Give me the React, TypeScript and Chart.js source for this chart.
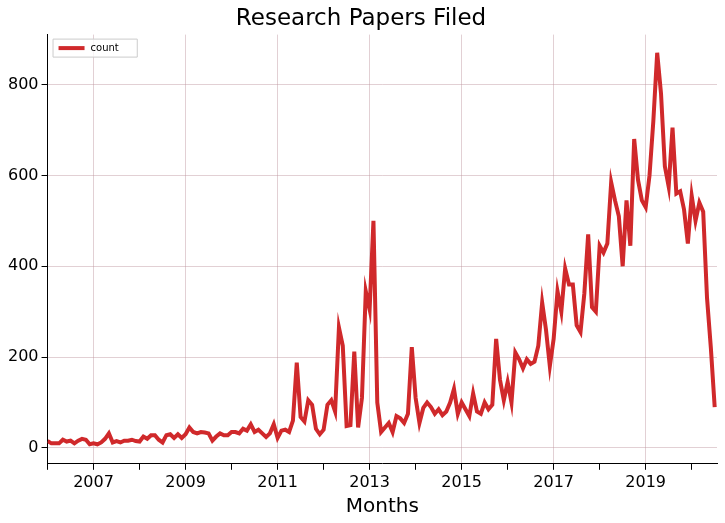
import React, { useEffect, useRef } from "react";
import { Chart, registerables } from "chart.js";
Chart.register(...registerables);

const startYear = 2006;
const counts: number[] = [
  15,10,10,10,18,14,16,10,16,20,18,8,
  10,8,12,20,32,12,15,12,16,16,18,15,
  14,25,20,28,28,18,12,28,30,22,30,22,
  30,45,35,32,35,34,32,16,25,32,28,28,
  35,35,32,42,38,52,35,40,32,24,32,52,
  22,38,40,35,60,188,68,58,105,95,42,30,
  40,95,105,80,265,225,48,50,212,45,110,345,
  305,500,100,35,45,55,35,70,65,55,75,222,
  110,55,88,100,90,75,85,72,80,100,130,75,
  100,85,70,120,80,75,100,85,95,240,150,105,
  145,100,210,195,175,195,185,190,225,320,260,180,
  240,345,300,395,360,360,270,255,340,470,310,300,
  445,430,450,585,545,510,400,545,445,680,590,545,
  530,600,720,870,780,620,575,705,560,565,525,450,
  555,500,540,520,330,220,90,
];
const seriesLabel = "count";
const yTicks = [0, 200, 400, 600, 800];
const lineColor = "#d0292b";

const legendInside = {
  id: "legendInside",
  afterDraw(chart: any) {
    const { ctx, chartArea } = chart;
    const x = chartArea.left + 5, y = chartArea.top + 4;
    ctx.save();
    ctx.font = "10px 'DejaVu Sans', sans-serif";
    const w = 14 + 28 + 6 + ctx.measureText(seriesLabel).width + 8;
    ctx.fillStyle = "rgba(255,255,255,0.8)";
    ctx.strokeStyle = "#ccc";
    ctx.lineWidth = 1;
    ctx.beginPath();
    ctx.rect(x + 0.5, y + 0.5, w, 18);
    ctx.fill(); ctx.stroke();
    ctx.strokeStyle = lineColor; ctx.lineWidth = 4;
    ctx.beginPath(); ctx.moveTo(x + 6, y + 9.5); ctx.lineTo(x + 32, y + 9.5); ctx.stroke();
    ctx.fillStyle = "#000"; ctx.textBaseline = "middle";
    ctx.fillText(seriesLabel, x + 38, y + 10);
    ctx.restore();
  },
};

export default function App() {
  const ref = useRef<HTMLCanvasElement>(null);
  useEffect(() => {
    const pts = counts.map((v, i) => ({ x: startYear + i / 12, y: v }));
    const font = "'DejaVu Sans', sans-serif";
    const chart = new Chart(ref.current!, {
      type: "line",
      data: {
        datasets: [{
          label: seriesLabel, data: pts, borderColor: lineColor, backgroundColor: lineColor,
          borderWidth: 4, pointRadius: 0, tension: 0,
        }],
      },
      plugins: [legendInside],
      options: {
        animation: false, responsive: false, maintainAspectRatio: false,
        layout: { padding: { left: 5, right: 8, top: 0, bottom: 0 } },
        plugins: {
          title: { display: true, text: "Research Papers Filed", color: "#000", font: { family: font, size: 23, weight: "normal" }, padding: { top: 5, bottom: 2 } },
          legend: { display: false },
          tooltip: { enabled: false },
        },
        scales: {
          x: {
            type: "linear", min: 2006, max: 2020.55,
            border: { color: "#000", width: 1 },
            grid: {
              color: (c: any) => (Math.round(c.tick?.value ?? 0) % 2 === 1 ? "rgba(190,150,160,0.45)" : "rgba(0,0,0,0)"),
              tickColor: "#000", tickLength: 6,
            },
            ticks: {
              stepSize: 1, color: "#000", font: { family: font, size: 16 },
              callback: (v: any) => (Math.round(v) % 2 === 1 ? String(Math.round(v)) : ""),
              maxRotation: 0, autoSkip: false,
            },
            afterBuildTicks: (ax: any) => { ax.ticks = []; for (let y = 2006; y <= 2020; y++) ax.ticks.push({ value: y }); },
            title: { display: true, text: "Months", color: "#000", font: { family: font, size: 20 }, padding: { top: 0 } },
          },
          y: {
            min: -35, max: 910,
            border: { color: "#000", width: 1 },
            grid: { color: (c: any) => (c.tick && yTicks.includes(c.tick.value) ? "rgba(190,150,160,0.45)" : "rgba(0,0,0,0)"), tickColor: "#000", tickLength: 6 },
            afterBuildTicks: (ax: any) => { ax.ticks = yTicks.map((v) => ({ value: v })); },
            ticks: { color: "#000", font: { family: font, size: 16 } },
          },
        },
      },
    });
    return () => chart.destroy();
  }, []);
  return (
    <div style={{ position: "absolute", left: 0, top: 0, width: 725, height: 523, background: "#fff" }}>
      <canvas ref={ref} width={725} height={523} />
    </div>
  );
}
